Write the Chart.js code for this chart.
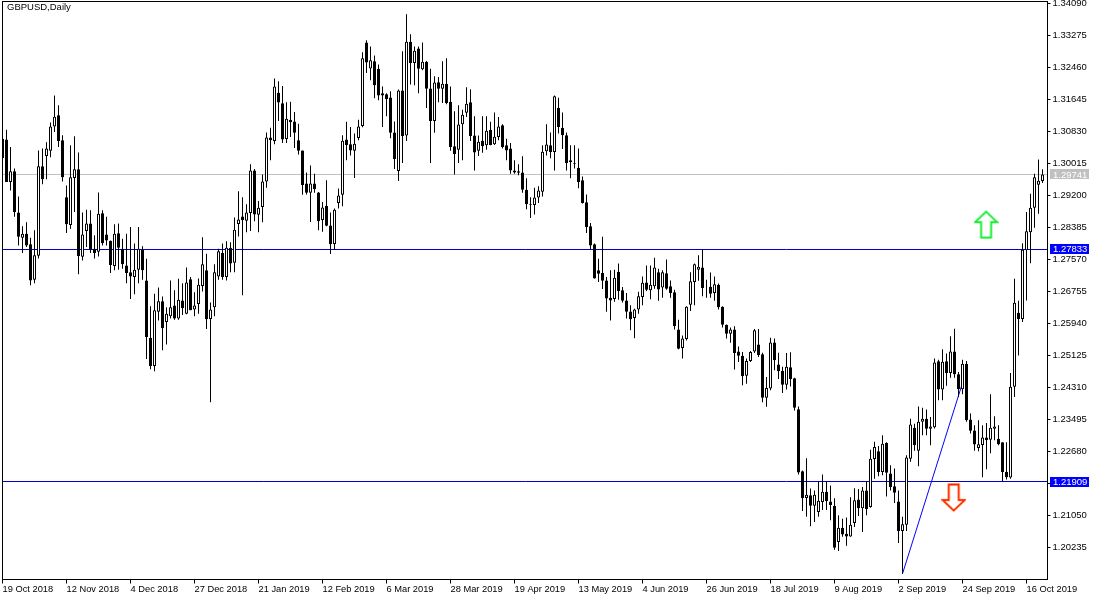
<!DOCTYPE html>
<html><head><meta charset="utf-8"><style>html,body{margin:0;padding:0;background:#fff}canvas{display:block}</style>
<script src="https://cdn.jsdelivr.net/npm/chart.js@4"></script></head>
<body><canvas id="c" width="1100" height="600"></canvas>
<script>
const title = "GBPUSD,Daily";
const dateLabels = ["19 Oct 2018","12 Nov 2018","4 Dec 2018","27 Dec 2018","21 Jan 2019","12 Feb 2019","6 Mar 2019","28 Mar 2019","19 Apr 2019","13 May 2019","4 Jun 2019","26 Jun 2019","18 Jul 2019","9 Aug 2019","2 Sep 2019","24 Sep 2019","16 Oct 2019"];
const priceTicks = [1.3409,1.33275,1.3246,1.31645,1.3083,1.30015,1.292,1.28385,1.2757,1.26755,1.2594,1.25125,1.2431,1.23495,1.2268,1.21865,1.2105,1.20235];
const highs = [1.3065,1.3088,1.3044,1.2989,1.2918,1.2842,1.2852,1.2813,1.2832,1.3035,
1.3040,1.3056,1.3106,1.3175,1.3150,1.3074,1.2946,1.3048,1.3071,1.3030,
1.2877,1.2884,1.2883,1.2819,1.2928,1.2883,1.2866,1.2806,1.2847,1.2849,
1.2810,1.2823,1.2840,1.2798,1.2840,1.2791,1.2759,1.2638,1.2670,1.2686,
1.2663,1.2636,1.2704,1.2679,1.2708,1.2697,1.2737,1.2713,1.2674,1.2709,
1.2814,1.2772,1.2648,1.2745,1.2785,1.2798,1.2804,1.2801,1.2864,1.2931,
1.2916,1.2898,1.3000,1.2988,1.2906,1.2974,1.3081,1.3093,1.3218,1.3211,
1.3199,1.3158,1.3159,1.3133,1.3103,1.3035,1.2979,1.2997,1.2976,1.2929,
1.2904,1.2959,1.2877,1.2887,1.2938,1.3074,1.3108,1.3095,1.3078,1.3113,
1.3285,1.3316,1.3300,1.3277,1.3254,1.3198,1.3181,1.3186,1.3109,1.3190,
1.3288,1.3382,1.3331,1.3300,1.3300,1.3310,1.3263,1.3243,1.3224,1.3222,
1.3262,1.3270,1.3198,1.3135,1.3150,1.3139,1.3196,1.3191,1.3122,1.3073,
1.3122,1.3122,1.3108,1.3132,1.3120,1.3102,1.3065,1.3054,1.3010,1.3000,
1.3020,1.2964,1.2916,1.2940,1.2944,1.3048,1.3102,1.3081,1.3175,1.3169,
1.3132,1.3081,1.3048,1.3048,1.3040,1.2969,1.2923,1.2850,1.2798,1.2759,
1.2815,1.2713,1.2730,1.2731,1.2747,1.2687,1.2672,1.2641,1.2632,1.2675,
1.2714,1.2742,1.2742,1.2762,1.2734,1.2730,1.2757,1.2704,1.2680,1.2604,
1.2564,1.2638,1.2725,1.2747,1.2768,1.2782,1.2706,1.2724,1.2714,1.2696,
1.2638,1.2592,1.2584,1.2587,1.2536,1.2522,1.2505,1.2524,1.2580,1.2580,
1.2520,1.2458,1.2558,1.2556,1.2520,1.2484,1.2519,1.2521,1.2456,1.2383,
1.2220,1.2251,1.2174,1.2169,1.2192,1.2210,1.2192,1.2182,1.2149,1.2106,
1.2097,1.2100,1.2152,1.2175,1.2173,1.2178,1.2191,1.2273,1.2293,1.2282,
1.2310,1.2292,1.2233,1.2225,1.2169,1.2102,1.2259,1.2352,1.2339,1.2383,
1.2380,1.2375,1.2356,1.2505,1.2502,1.2529,1.2518,1.2562,1.2581,1.2471,
1.2502,1.2499,1.2365,1.2335,1.2348,1.2335,1.2341,1.2414,1.2358,1.2335,
1.2292,1.2292,1.2468,1.2708,1.2652,1.2799,1.2878,1.2925,1.2976,1.3012,1.2987];
const lows = [1.3016,1.2955,1.2933,1.2866,1.2793,1.2774,1.2789,1.2692,1.2697,1.2760,
1.2949,1.2962,1.3018,1.3082,1.3044,1.2956,1.2825,1.2835,1.2878,1.2720,
1.2755,1.2789,1.2774,1.2760,1.2765,1.2793,1.2793,1.2723,1.2730,1.2731,
1.2734,1.2697,1.2657,1.2669,1.2697,1.2706,1.2504,1.2478,1.2473,1.2602,
1.2526,1.2541,1.2607,1.2604,1.2604,1.2616,1.2618,1.2628,1.2613,1.2619,
1.2676,1.2580,1.2394,1.2613,1.2706,1.2706,1.2704,1.2725,1.2725,1.2816,
1.2666,1.2827,1.2830,1.2855,1.2827,1.2852,1.2940,1.3010,1.3051,1.3110,
1.3054,1.3054,1.3069,1.3041,1.3025,1.2922,1.2923,1.2853,1.2927,1.2832,
1.2828,1.2842,1.2771,1.2782,1.2887,1.2893,1.3010,1.3022,1.2965,1.3061,
1.3094,1.3232,1.3214,1.3168,1.3163,1.3095,1.3122,1.3066,1.2988,1.2957,
1.3003,1.3059,1.3203,1.3201,1.3181,1.3239,1.3143,1.3003,1.3080,1.3158,
1.3156,1.3153,1.3034,1.2974,1.3003,1.3010,1.3120,1.3059,1.2984,1.3021,
1.3029,1.3037,1.3048,1.3049,1.3061,1.3040,1.3010,1.2976,1.2976,1.2972,
1.2927,1.2885,1.2863,1.2872,1.2901,1.2918,1.3022,1.3015,1.2984,1.3078,
1.3039,1.2984,1.2964,1.2989,1.2939,1.2900,1.2825,1.2784,1.2709,1.2700,
1.2682,1.2624,1.2602,1.2650,1.2655,1.2648,1.2607,1.2577,1.2557,1.2619,
1.2641,1.2677,1.2656,1.2683,1.2652,1.2660,1.2680,1.2660,1.2579,1.2529,
1.2505,1.2551,1.2626,1.2641,1.2703,1.2664,1.2660,1.2660,1.2652,1.2630,
1.2584,1.2556,1.2545,1.2477,1.2496,1.2437,1.2441,1.2496,1.2519,1.2509,
1.2394,1.2382,1.2424,1.2475,1.2453,1.2417,1.2426,1.2434,1.2373,1.2210,
1.2117,1.2102,1.2078,1.2089,1.2102,1.2119,1.2119,1.2093,1.2018,1.2015,
1.2051,1.2028,1.2051,1.2076,1.2104,1.2063,1.2106,1.2125,1.2199,1.2205,
1.2208,1.2154,1.2169,1.2137,1.2035,1.1957,1.2066,1.2242,1.2270,1.2231,
1.2310,1.2310,1.2284,1.2327,1.2399,1.2399,1.2436,1.2456,1.2456,1.2407,
1.2414,1.2344,1.2314,1.2270,1.2269,1.2203,1.2223,1.2264,1.2297,1.2284,
1.2193,1.2197,1.2199,1.2407,1.2513,1.2598,1.2653,1.2748,1.2838,1.2874,1.2952];
const opens = [1.3065,1.3063,1.2955,1.2982,1.2877,1.2813,1.2823,1.2796,1.2706,1.2767,
1.2995,1.3021,1.3034,1.3096,1.3125,1.3061,1.2916,1.2845,1.2965,1.2987,
1.2764,1.2830,1.2849,1.2785,1.2777,1.2875,1.2821,1.2805,1.2741,1.2824,
1.2785,1.2742,1.2725,1.2713,1.2731,1.2782,1.2704,1.2558,1.2486,1.2624,
1.2651,1.2598,1.2613,1.2640,1.2607,1.2653,1.2619,1.2707,1.2630,1.2644,
1.2690,1.2730,1.2606,1.2636,1.2714,1.2774,1.2713,1.2787,1.2749,1.2848,
1.2867,1.2856,1.2876,1.2984,1.2871,1.2891,1.2956,1.3068,1.3059,1.3182,
1.3155,1.3064,1.3113,1.3109,1.3061,1.3035,1.2951,1.2927,1.2951,1.2928,
1.2858,1.2894,1.2844,1.2797,1.2901,1.2922,1.3063,1.3051,1.3034,1.3067,
1.3097,1.3310,1.3244,1.3262,1.3243,1.3181,1.3178,1.3170,1.3081,1.2983,
1.3188,1.3073,1.3312,1.3258,1.3295,1.3242,1.3261,1.3193,1.3110,1.3209,
1.3192,1.3205,1.3159,1.3046,1.3037,1.3102,1.3131,1.3158,1.3073,1.3034,
1.3060,1.3048,1.3088,1.3051,1.3069,1.3099,1.3048,1.3040,1.2984,1.2982,
1.2979,1.2935,1.2898,1.2896,1.2915,1.2930,1.3033,1.3048,1.3031,1.3144,
1.3093,1.3074,1.3010,1.3003,1.2991,1.2959,1.2903,1.2842,1.2796,1.2730,
1.2723,1.2704,1.2660,1.2657,1.2726,1.2679,1.2653,1.2625,1.2608,1.2630,
1.2662,1.2699,1.2679,1.2689,1.2725,1.2686,1.2722,1.2689,1.2674,1.2579,
1.2532,1.2555,1.2642,1.2700,1.2731,1.2737,1.2688,1.2688,1.2672,1.2693,
1.2637,1.2591,1.2568,1.2579,1.2523,1.2512,1.2461,1.2499,1.2523,1.2541,
1.2516,1.2405,1.2429,1.2546,1.2490,1.2474,1.2438,1.2483,1.2455,1.2376,
1.2218,1.2150,1.2157,1.2130,1.2114,1.2140,1.2166,1.2141,1.2130,1.2038,
1.2074,1.2059,1.2052,1.2086,1.2146,1.2124,1.2169,1.2127,1.2249,1.2269,
1.2216,1.2290,1.2212,1.2180,1.2141,1.2066,1.2082,1.2250,1.2329,1.2270,
1.2344,1.2352,1.2326,1.2330,1.2498,1.2426,1.2498,1.2468,1.2523,1.2465,
1.2427,1.2492,1.2350,1.2322,1.2277,1.2285,1.2304,1.2298,1.2326,1.2301,
1.2292,1.2217,1.2202,1.2433,1.2622,1.2606,1.2781,1.2827,1.2889,1.2948,1.2957];
const closes = [1.3016,1.2955,1.2982,1.2878,1.2815,1.2823,1.2793,1.2704,1.2768,1.2995,
1.2962,1.3040,1.3096,1.3121,1.3059,1.2967,1.2847,1.2967,1.2987,1.2766,
1.2821,1.2849,1.2782,1.2774,1.2874,1.2799,1.2806,1.2743,1.2823,1.2787,
1.2745,1.2723,1.2714,1.2731,1.2785,1.2730,1.2560,1.2486,1.2628,1.2651,
1.2582,1.2619,1.2636,1.2607,1.2655,1.2633,1.2699,1.2628,1.2640,1.2693,
1.2745,1.2605,1.2630,1.2725,1.2778,1.2713,1.2787,1.2747,1.2833,1.2859,
1.2857,1.2877,1.2984,1.2872,1.2889,1.2956,1.3068,1.3061,1.3198,1.3157,
1.3063,1.3116,1.3107,1.3080,1.3034,1.2947,1.2927,1.2951,1.2936,1.2855,
1.2890,1.2843,1.2796,1.2884,1.2920,1.3060,1.3049,1.3035,1.3052,1.3096,
1.3270,1.3259,1.3265,1.3201,1.3175,1.3175,1.3166,1.3080,1.3013,1.3188,
1.3072,1.3312,1.3258,1.3289,1.3243,1.3261,1.3192,1.3110,1.3208,1.3192,
1.3205,1.3156,1.3044,1.3026,1.3101,1.3126,1.3154,1.3072,1.3030,1.3057,
1.3046,1.3085,1.3049,1.3070,1.3096,1.3044,1.3035,1.2984,1.2979,1.2978,
1.2935,1.2898,1.2896,1.2915,1.2933,1.3032,1.3050,1.3031,1.3173,1.3095,
1.3074,1.3003,1.3005,1.3001,1.2955,1.2901,1.2840,1.2793,1.2709,1.2721,
1.2703,1.2658,1.2653,1.2711,1.2677,1.2652,1.2624,1.2605,1.2630,1.2664,
1.2698,1.2680,1.2693,1.2737,1.2681,1.2725,1.2683,1.2672,1.2587,1.2530,
1.2556,1.2637,1.2702,1.2745,1.2739,1.2685,1.2687,1.2670,1.2694,1.2636,
1.2591,1.2568,1.2579,1.2519,1.2512,1.2460,1.2499,1.2522,1.2577,1.2514,
1.2405,1.2430,1.2546,1.2501,1.2473,1.2438,1.2484,1.2453,1.2380,1.2215,
1.2150,1.2158,1.2130,1.2158,1.2143,1.2166,1.2142,1.2132,1.2023,1.2074,
1.2057,1.2052,1.2082,1.2144,1.2124,1.2169,1.2122,1.2250,1.2280,1.2216,
1.2288,1.2214,1.2178,1.2163,1.2066,1.2083,1.2253,1.2337,1.2284,1.2344,
1.2352,1.2326,1.2332,1.2495,1.2426,1.2497,1.2468,1.2523,1.2465,1.2427,
1.2492,1.2348,1.2321,1.2286,1.2287,1.2304,1.2297,1.2329,1.2332,1.2287,
1.2216,1.2203,1.2433,1.2647,1.2606,1.2782,1.2829,1.2889,1.2967,1.2958,1.2974];
const barsPerDateTick = 16;
const visibleBars = 261.25;
const yMax = 1.34144, yMin = 1.19423;
const currentPrice = 1.29741;
const levelPrices = [1.27833, 1.21909];
const trendBars = [225, 240];
const trendPrices = [1.1957, 1.2443];
const upArrow = {x: 245.9, y: 1.2846};
const downArrow = {x: 237.8, y: 1.2151};

function arrowCanvas(dir, color, halo){
  const c = document.createElement('canvas'); c.width = 25; c.height = 29;
  const g = c.getContext('2d');
  if (dir < 0) { g.translate(0, 29); g.scale(1, -1); }
  const path = () => { g.beginPath(); g.moveTo(12.5,1.5); g.lineTo(23.5,12); g.lineTo(17.5,12); g.lineTo(17.5,27.5); g.lineTo(7.5,27.5); g.lineTo(7.5,12); g.lineTo(1.5,12); g.closePath(); };
  path(); g.fillStyle = '#fff'; g.fill();
  g.lineJoin = 'miter';
  g.strokeStyle = halo; g.lineWidth = 2.4; path(); g.stroke();
  g.strokeStyle = color; g.lineWidth = 1.4; path(); g.stroke();
  return c;
}
const idx = opens.map((_, i) => i);
const noPad = s => { s.paddingTop = s.paddingBottom = s.paddingLeft = s.paddingRight = 0; };
const frameAndLabels = {
  id: 'frameAndLabels',
  afterDraw(chart){
    const {ctx, chartArea:a, scales:{y}} = chart;
    ctx.save();
    ctx.strokeStyle = '#000'; ctx.lineWidth = 1;
    ctx.strokeRect(a.left, a.top, a.right - a.left, a.bottom - a.top);
    ctx.font = '9.5px "Liberation Sans"'; ctx.textBaseline = 'middle'; ctx.textAlign = 'left';
    const tag = (v, bg) => {
      const py = y.getPixelForValue(v);
      ctx.fillStyle = bg; ctx.fillRect(1050, Math.round(py) - 5, 39, 10);
      ctx.fillStyle = '#fff'; ctx.fillText(v.toFixed(5), 1053, py + 0.5);
    };
    tag(currentPrice, '#c0c0c0');
    levelPrices.forEach(v => tag(v, '#0000ff'));
    ctx.fillStyle = '#000';
    ctx.fillText(title, 7, 7.5);
    ctx.restore();
  }
};
new Chart(document.getElementById('c'), {
  data: { datasets: [
    {type:'line', data: trendBars.map((b,i)=>({x:b,y:trendPrices[i]})), borderColor:'#0000ff', borderWidth:1, pointRadius:0, order:7},
    {type:'bar', label:'wick', data: idx.map(i=>({x:i,y:[lows[i],highs[i]]})), backgroundColor:'#000', borderWidth:0, grouped:false, barThickness:1, maxBarThickness:1, inflateAmount:0, order:3},
    {type:'bar', label:'body', data: idx.map(i=>({x:i,y:[opens[i],closes[i]]})),
      backgroundColor: idx.map(i=> closes[i] >= opens[i] ? '#fff' : '#000'), borderColor:'#000', borderWidth:1, borderSkipped:false, grouped:false, barThickness:3, maxBarThickness:3, inflateAmount:0, order:2},
    {type:'line', data:[upArrow], showLine:false, pointStyle:arrowCanvas(1,'#00ee22','#a8f5b0'), pointRadius:12, order:1},
    {type:'line', data:[downArrow], showLine:false, pointStyle:arrowCanvas(-1,'#ff1500','#ffb060'), pointRadius:12, order:1}
  ]},
  options: {
    responsive:false, animation:false, devicePixelRatio:1,
    layout:{autoPadding:false, padding:{left:2.5, top:1.5, right:0, bottom:0}},
    plugins:{legend:{display:false}, tooltip:{enabled:false}},
    scales:{
      x:{type:'linear', min:0, max:visibleBars, position:'bottom', offset:false,
        afterBuildTicks(s){ s.ticks = dateLabels.map((_,i)=>({value:i*barsPerDateTick})); },
        afterFit(s){ s.height = 20.5; noPad(s); },
        border:{display:false},
        grid:{drawOnChartArea:false, offset:false, tickLength:4, tickColor:'#000', tickWidth:1},
        ticks:{autoSkip:false, maxRotation:0, minRotation:0, align:'start', padding:0, color:'#000', font:{family:'Liberation Sans', size:9.3},
          callback(v){ return dateLabels[Math.round(v/barsPerDateTick)]; }}},
      y:{type:'linear', min:yMin, max:yMax, position:'right',
        afterBuildTicks(s){ s.ticks = priceTicks.map(v=>({value:v})); },
        afterFit(s){ s.width = 52.5; noPad(s); },
        border:{display:false},
        grid:{drawOnChartArea:false, tickLength:3, tickColor:'#000', tickWidth:1},
        ticks:{autoSkip:false, padding:2, color:'#000', font:{family:'Liberation Sans', size:9.5},
          callback(v){ return v.toFixed(5); }}},
      levels:{type:'linear', min:yMin, max:yMax, position:'right',
        afterBuildTicks(s){ s.ticks = [currentPrice, ...levelPrices].map(v=>({value:v})); },
        afterFit(s){ s.width = 0; noPad(s); },
        border:{display:false},
        grid:{drawOnChartArea:true, drawTicks:false, tickLength:0, lineWidth:1,
          color(c){ return c.tick && c.tick.value === currentPrice ? '#c0c0c0' : '#0000cd'; }},
        ticks:{display:false}}
    }
  },
  plugins:[frameAndLabels]
});
</script></body></html>
